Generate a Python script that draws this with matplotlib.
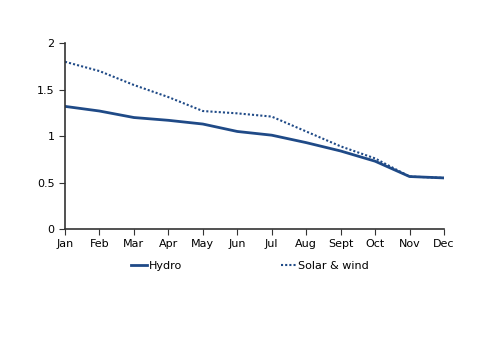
import matplotlib
matplotlib.use("Agg")
import matplotlib.pyplot as plt

months = ["Jan", "Feb", "Mar", "Apr", "May", "Jun", "Jul", "Aug", "Sept", "Oct", "Nov", "Dec"]
hydro = [1.32, 1.27, 1.20, 1.17, 1.13, 1.05, 1.01, 0.93, 0.84, 0.73, 0.565, 0.55]
solar_wind = [1.80, 1.70, 1.55, 1.42, 1.27, 1.245, 1.21, 1.05, 0.89, 0.76, 0.565, 0.55]

color = "#1f4a87"
fig = plt.figure(figsize=(5.0, 3.54), dpi=100)
ax = fig.add_axes([0.13, 0.353, 0.758, 0.525])
x = list(range(len(months)))
ax.plot(x, hydro, color=color, lw=2.0, label="Hydro")
ax.plot(x, solar_wind, color=color, lw=1.5, ls=(0, (1, 1)), label="Solar & wind")
ax.set_xlim(0, 11)
ax.set_ylim(0, 2)
ax.set_xticks(x)
ax.set_xticklabels(months)
ax.set_yticks([0, 0.5, 1, 1.5, 2])
ax.set_yticklabels(["0", "0.5", "1", "1.5", "2"])
for s in ["top", "right"]:
    ax.spines[s].set_visible(False)
for s in ["left", "bottom"]:
    ax.spines[s].set_color("#333333")
    ax.spines[s].set_linewidth(1.2)
ax.tick_params(axis="both", labelsize=8, length=4, color="#333333", direction="out")
fig.legend(loc="center", bbox_to_anchor=(0.5, 0.248), ncol=2, frameon=False,
           fontsize=8, handlelength=1.5, handletextpad=0.1, columnspacing=8.9)
fig.savefig("out.png", dpi=100)
